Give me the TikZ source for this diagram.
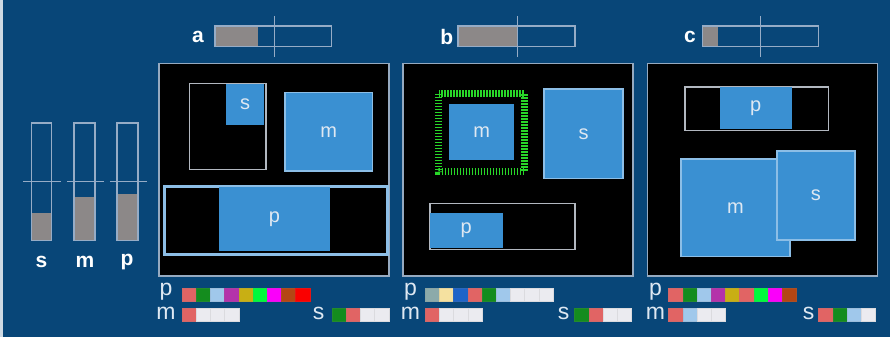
\documentclass[tikz,border=0pt]{standalone}
\usepackage{fontspec}
\setmainfont{Liberation Sans}
\definecolor{bg}{RGB}{8,70,120}
\definecolor{framec}{RGB}{150,170,192}
\definecolor{outc}{RGB}{178,184,192}
\definecolor{boxblue}{RGB}{58,144,210}
\definecolor{boxedge}{RGB}{140,190,230}
\definecolor{barfill}{RGB}{140,136,136}
\definecolor{barline}{RGB}{150,172,198}
\definecolor{labelc}{RGB}{222,232,242}
\definecolor{salmon}{RGB}{225,100,100}
\definecolor{dgreen}{RGB}{20,140,30}
\definecolor{lblue}{RGB}{160,200,235}
\definecolor{purp}{RGB}{180,50,170}
\definecolor{olive}{RGB}{200,175,20}
\definecolor{bgreen}{RGB}{0,250,60}
\definecolor{magen}{RGB}{250,0,250}
\definecolor{brown}{RGB}{180,70,20}
\definecolor{bred}{RGB}{250,0,0}
\definecolor{wht}{RGB}{235,235,240}
\definecolor{teal}{RGB}{140,170,170}
\definecolor{pyellow}{RGB}{245,225,160}
\definecolor{mblue}{RGB}{30,100,200}
\definecolor{dgr}{RGB}{40,215,40}
\newcommand\bx[7]{%
  \pgfmathsetmacro\bw{#5-#3}\pgfmathsetmacro\bh{#6-#4}%
  \node[#1, minimum width=\bw pt, minimum height=\bh pt, inner sep=0pt, anchor=north west] (#2) at (#3,#4) {#7};}
\newcommand\swatches[4]{%
  \foreach \c [count=\i from 0] in {#4} {\node[sw, fill=\c, draw=\c!85!gray, anchor=north west] (#1\i) at ({#2+\i*14.2},#3) {};}}
\tikzset{
  frame/.style={fill=black, draw=framec, line width=1.6pt},
  outl/.style={fill=black, draw=outc, line width=1.8pt},
  bluebox/.style={fill=boxblue, draw=boxedge, line width=1.6pt, text=labelc, font=\fontsize{20}{20}\selectfont},
  bluein/.style={fill=boxblue, draw=none, text=labelc, font=\fontsize{20}{20}\selectfont},
  gauge/.style={draw=barline, line width=1.3pt},
  sw/.style={minimum width=14.2pt, minimum height=13.5pt, inner sep=0pt, line width=0.4pt},
  leg/.style={text=labelc, font=\fontsize{23}{23}\selectfont, inner sep=0pt},
  blab/.style={text=white, font=\bfseries\fontsize{21}{21}\selectfont, inner sep=0pt},
  tick/.style={draw=barline, line width=0.8pt}
}
\begin{document}
\begin{tikzpicture}[x=1pt,y=-1pt]
\useasboundingbox (0,0) rectangle (890,337);
\fill[bg] (0,0) rectangle (890,337);
\fill[white!80!bg] (0,0) rectangle (3,337);

% left gauges
\foreach \n/\xa/\xb/\ft/\la/\lb/\cx in {s/31.7/51.7/212.7/23/61/41.5, m/74/95/197/67/104/85, p/117/138/194/110/147/127}{
  \fill[barfill] (\xa,\ft) rectangle (\xb,240.7);
  \draw[gauge] (\xa,123) rectangle (\xb,240.7);
  \draw[tick] (\la,181.7) -- (\lb,181.7);
  \node[blab] (g\n) at (\cx,262) {\n};
}

% ---------- panel a ----------
\node[blab] (la) at (198,37) {a};
\fill[barfill] (215,26) rectangle (258,46.7);
\draw[gauge] (215,26) rectangle (331.7,46.7);
\draw[tick] (274,16) -- (274,57);
\bx{frame}{pa}{158}{62.7}{388}{275}{}
\bx{outl}{as}{188.5}{82.5}{265}{168.5}{}
\bx{bluein}{ass}{225.5}{83.5}{264.1}{125}{s}
\bx{bluebox}{am}{284}{91.7}{371.7}{170}{m}
\bx{fill=black, draw=boxedge, line width=3.5pt}{ap}{162.5}{184.7}{385.5}{252.8}{}
\bx{bluein}{app}{218.3}{186.4}{330}{251}{p}

% ---------- panel b ----------
\node[blab] (lb) at (446.7,37) {b};
\fill[barfill] (458,26) rectangle (517.7,46.7);
\draw[gauge] (458,26) rectangle (575,46.7);
\draw[tick] (517.7,16) -- (517.7,57);
\bx{frame}{pb}{402.3}{62.7}{632.3}{275}{}
\draw[dgr, line width=6.5pt, dash pattern=on 1.6pt off 1.4pt] (438.5,93.5) rectangle (524.5,171.5);
\bx{bluein}{bm}{449}{103.3}{514}{160}{m}
\bx{bluebox}{bs}{543.3}{88.3}{622.3}{177.7}{s}
\bx{outl}{bp}{429}{202.5}{574}{248.5}{}
\bx{bluein}{bpp}{429.9}{212.7}{502.3}{247.6}{p}

% ---------- panel c ----------
\node[blab] (lc) at (690,37) {c};
\fill[barfill] (702.3,26) rectangle (718.3,46.7);
\draw[gauge] (702.3,26) rectangle (818.3,46.7);
\draw[tick] (760,16) -- (760,57);
\bx{frame}{pc}{646.7}{62.7}{876.7}{275}{}
\bx{outl}{cp}{684}{85.8}{827.5}{129.5}{}
\bx{bluein}{cpp}{719.3}{86.7}{791.7}{128.6}{p}
\bx{bluebox}{cm}{680}{158.3}{789.3}{255.7}{m}
\bx{bluebox}{cs}{776}{150}{854.3}{239.3}{s}

% ---------- legends ----------
\node[leg] (pla) at (166,292) {p};
\node[leg] (mla) at (166,313) {m};
\node[leg] (sla) at (318.5,313) {s};
\swatches{pa}{181.7}{287.5}{salmon,dgreen,lblue,purp,olive,bgreen,magen,brown,bred}
\swatches{ma}{181.7}{307.7}{salmon,wht,wht,wht}
\swatches{sa}{331.7}{307.7}{dgreen,salmon,wht,wht}

\node[leg] (plb) at (410.5,292) {p};
\node[leg] (mlb) at (410.5,313) {m};
\node[leg] (slb) at (563.5,313) {s};
\swatches{pb}{425}{287.5}{teal,pyellow,mblue,salmon,dgreen,lblue,wht,wht,wht}
\swatches{mb}{425}{307.7}{salmon,wht,wht,wht}
\swatches{sb}{574.3}{307.7}{dgreen,salmon,wht,wht}

\node[leg] (plc) at (655.5,292) {p};
\node[leg] (mlc) at (655.5,313) {m};
\node[leg] (slc) at (808.5,313) {s};
\swatches{pc}{668.3}{287.5}{salmon,dgreen,lblue,purp,olive,salmon,bgreen,magen,brown}
\swatches{mc}{668.3}{307.7}{salmon,lblue,wht,wht}
\swatches{sc}{818.3}{307.7}{salmon,dgreen,lblue,wht}
\end{tikzpicture}
\end{document}
